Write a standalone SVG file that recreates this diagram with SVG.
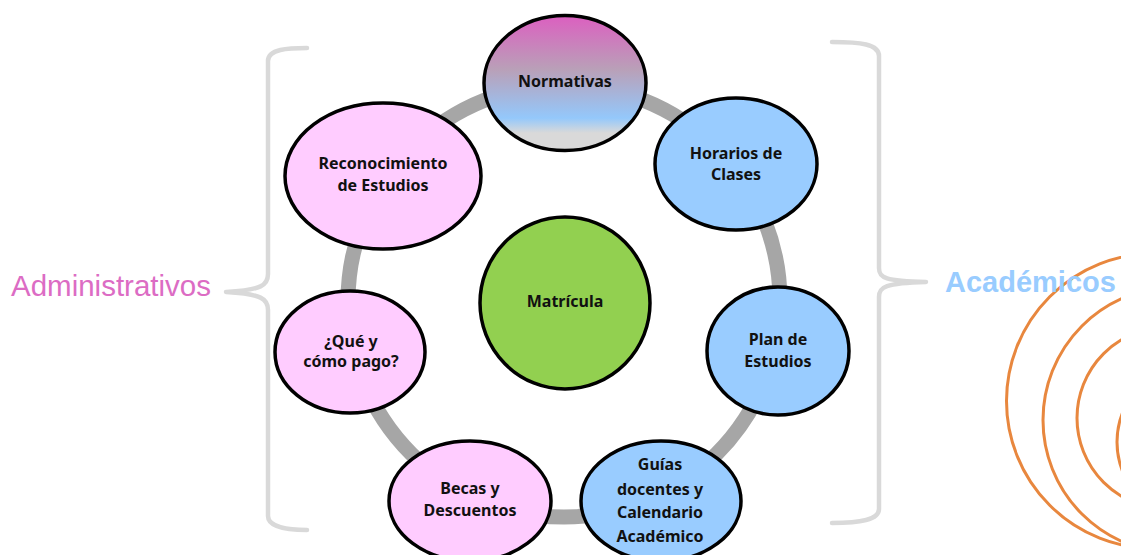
<svg xmlns="http://www.w3.org/2000/svg" width="1121" height="555" viewBox="0 0 1121 555">
<style>
.n{stroke:#000;stroke-width:3.5}
.p{fill:#fcf}
.b{fill:#9cf}
.t{font:bold 16px "Noto Sans","Liberation Sans",sans-serif;fill:#111;text-anchor:middle}
.br{fill:none;stroke:#d9d9d9;stroke-width:4.5;stroke-linecap:round;stroke-linejoin:round}
.o{fill:none;stroke:#e8873e;stroke-width:3}
</style>
<defs>
<linearGradient id="g" x1="0" y1="0" x2="0" y2="1">
<stop offset="0" stop-color="#dc5fc0"/>
<stop offset=".4" stop-color="#b9a0b8"/>
<stop offset=".76" stop-color="#94c8fb"/>
<stop offset=".87" stop-color="#d9d9d9"/>
<stop offset="1" stop-color="#d9d9d9"/>
</linearGradient>
</defs>
<rect width="1121" height="555" fill="#fff"/>
<g id="connectors">
<circle cx="564" cy="301" r="216" fill="none" stroke="#a6a6a6" stroke-width="15"/>
<path class="br" d="M307 48C288 48 268 49 268 61V274C268 285 262 290 226 292C262 294 268 299 268 310V516C268 527 288 530 307 530"/>
<path class="br" d="M832 42C860 42 879 44 879 56V268C879 278 885 281 926 282C885 283 879 287 879 297V509C879 520 860 523 832 523"/>
</g>
<g id="rings">
<circle class="o" cx="1154" cy="401" r="147.500"/>
<circle class="o" cx="1176" cy="420" r="133"/>
<circle class="o" cx="1168" cy="418" r="91"/>
<circle class="o" cx="1197" cy="442" r="80"/>
</g>
<g id="normativas"><ellipse class="n" cx="565" cy="83" rx="81" ry="67.500" fill="url(#g)"/><text class="t" x="565" y="87">Normativas</text></g>
<g id="horarios"><ellipse class="n b" cx="736" cy="164" rx="81" ry="66"/><text class="t" x="736" y="159">Horarios de</text><text class="t" x="736" y="180">Clases</text></g>
<g id="plan"><ellipse class="n b" cx="778" cy="351" rx="71" ry="64"/><text class="t" x="778" y="345">Plan de</text><text class="t" x="778" y="367">Estudios</text></g>
<g id="guias"><ellipse class="n b" cx="661" cy="501" rx="80" ry="60"/><text class="t" x="660" y="470">Guías</text><text class="t" x="660" y="495">docentes y</text><text class="t" x="660" y="518">Calendario</text><text class="t" x="660" y="542">Académico</text></g>
<g id="becas"><ellipse class="n p" cx="470" cy="501" rx="81" ry="60"/><text class="t" x="470" y="494">Becas y</text><text class="t" x="470" y="516">Descuentos</text></g>
<g id="pago"><ellipse class="n p" cx="350" cy="352" rx="75" ry="61"/><text class="t" x="351" y="347">¿Qué y</text><text class="t" x="351" y="367">cómo pago?</text></g>
<g id="reconocimiento"><ellipse class="n p" cx="383" cy="176" rx="98" ry="73"/><text class="t" x="383" y="169">Reconocimiento</text><text class="t" x="383" y="191">de Estudios</text></g>
<g id="matricula"><ellipse cx="565" cy="303" rx="85" ry="86" fill="#92d050" stroke="#000" stroke-width="3.500"/><text class="t" x="565" y="307">Matrícula</text></g>
<text x="11" y="296" font-family="Liberation Sans,sans-serif" font-size="29.500" fill="#dc6cc4">Administrativos</text>
<text x="945" y="292" font-family="Liberation Sans,sans-serif" font-size="29" font-weight="bold" fill="#9cf">Académicos</text>
</svg>
